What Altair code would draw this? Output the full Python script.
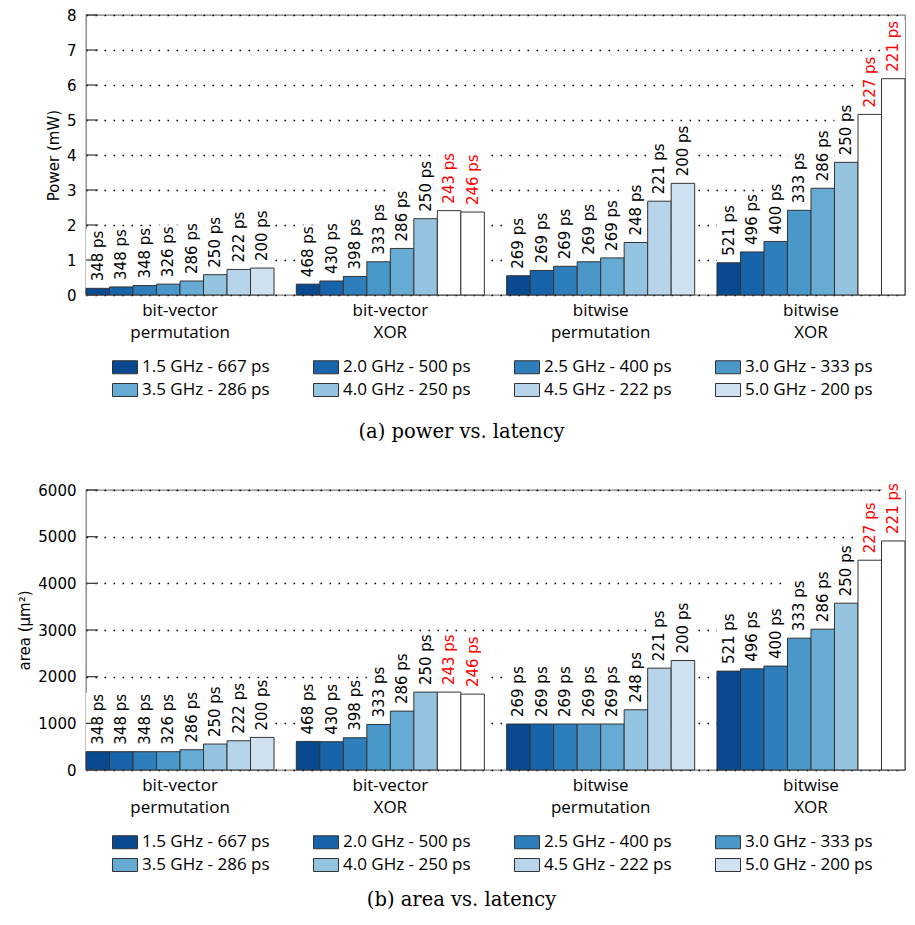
import altair as alt
import pandas as pd

# ---------------- data ----------------
groups = ["bit-vector\npermutation", "bit-vector\nXOR", "bitwise\npermutation", "bitwise\nXOR"]
freqs = ["1.5 GHz - 667 ps", "2.0 GHz - 500 ps", "2.5 GHz - 400 ps", "3.0 GHz - 333 ps",
         "3.5 GHz - 286 ps", "4.0 GHz - 250 ps", "4.5 GHz - 222 ps", "5.0 GHz - 200 ps"]
colors = ["#084990", "#1764ab", "#2e7ebc", "#4a98c9", "#66abd4", "#94c4df", "#b7d4ea", "#d0e1f2"]

# achieved latency (ps) per group, per target frequency
lat_bv_perm = [348, 348, 348, 326, 286, 250, 222, 200]
lat_bv_xor = [468, 430, 398, 333, 286, 250, 243, 246]
lat_bw_perm = [269, 269, 269, 269, 269, 248, 221, 200]
lat_bw_xor = [521, 496, 400, 333, 286, 250, 227, 221]

# 1 = timing target not met (white bar, red label)
fail_bv_perm = [0, 0, 0, 0, 0, 0, 0, 0]
fail_bv_xor = [0, 0, 0, 0, 0, 0, 1, 1]
fail_bw_perm = [0, 0, 0, 0, 0, 0, 0, 0]
fail_bw_xor = [0, 0, 0, 0, 0, 0, 1, 1]

# power (mW)
pow_bv_perm = [0.19, 0.23, 0.27, 0.31, 0.40, 0.58, 0.73, 0.77]
pow_bv_xor = [0.31, 0.40, 0.53, 0.95, 1.33, 2.18, 2.41, 2.37]
pow_bw_perm = [0.55, 0.70, 0.82, 0.95, 1.06, 1.50, 2.68, 3.19]
pow_bw_xor = [0.92, 1.23, 1.53, 2.42, 3.05, 3.79, 5.16, 6.18]

# area (um^2)
area_bv_perm = [392, 392, 392, 392, 434, 556, 627, 698]
area_bv_xor = [612, 606, 691, 976, 1262, 1669, 1669, 1626]
area_bw_perm = [985, 985, 985, 985, 985, 1291, 2183, 2346]
area_bw_xor = [2119, 2168, 2226, 2825, 3018, 3574, 4495, 4908]

power_ticks = [0, 1, 2, 3, 4, 5, 6, 7, 8]
area_ticks = [0, 1000, 2000, 3000, 4000, 5000, 6000]

latencies = [lat_bv_perm, lat_bv_xor, lat_bw_perm, lat_bw_xor]
fails = [fail_bv_perm, fail_bv_xor, fail_bw_perm, fail_bw_xor]


def make_df(series):
    rows = []
    for g, vals, lats, fl in zip(groups, series, latencies, fails):
        for f, v, l, fa in zip(freqs, vals, lats, fl):
            rows.append({"group": g, "freq": f, "value": v,
                         "lab": f"{l} ps", "failed": fa})
    return pd.DataFrame(rows)


SANS = "DejaVu Sans"
LEG = "Open Sans"


def panel(series, ytitle, ymax, yticks, caption, cap_offset):
    df = make_df(series)
    yscale = alt.Scale(domain=[0, ymax], nice=False, zero=True)
    x = alt.X("group:N", sort=groups,
              scale=alt.Scale(paddingInner=0.106, paddingOuter=0),
              axis=alt.Axis(title=None, labelAngle=0, ticks=False, domain=False,
                            grid=False, labelExpr="split(datum.label, '\\n')",
                            labelFont=LEG, labelFontSize=17, labelLineHeight=22,
                            labelPadding=7, labelColor="black"))
    xo = alt.XOffset("freq:N", sort=freqs,
                     scale=alt.Scale(paddingInner=0, paddingOuter=0))
    y = alt.Y("value:Q", scale=yscale,
              axis=alt.Axis(title=ytitle, values=yticks, format="d", grid=True,
                            gridDash=[1.6, 7.4], gridColor="#000000", gridWidth=1.5,
                            ticks=False, domain=False, labelPadding=10,
                            labelFont=SANS, labelFontSize=15, labelColor="black",
                            titleFont=SANS, titleFontSize=15, titleFontWeight="normal",
                            titleColor="black", titlePadding=5))
    base = alt.Chart(df)
    boxes = base.mark_bar(color="white", y2Offset=-59).encode(
        x=x, xOffset=xo, y=y, y2=alt.Y2("value:Q"))
    bars = base.mark_bar(stroke="#333333", strokeWidth=1).encode(
        x=x, xOffset=xo, y=y,
        fill=alt.condition(
            alt.datum.failed == 1, alt.value("white"),
            alt.Fill("freq:N", sort=freqs,
                     scale=alt.Scale(domain=freqs, range=colors),
                     legend=alt.Legend(title=None, orient="none", columns=4,
                                       direction="horizontal",
                                       legendX=26, legendY=339,
                                       symbolType="M-1,-0.52H1V0.52H-1Z",
                                       symbolSize=625, symbolStrokeColor="#333333",
                                       symbolStrokeWidth=1, symbolOpacity=1,
                                       labelFont=LEG, labelFontSize=17,
                                       labelColor="black", labelOffset=4,
                                       labelLimit=400, columnPadding=41,
                                       rowPadding=1))))
    texts = base.mark_text(angle=270, align="left", baseline="middle", dx=7,
                           font=SANS, fontSize=15).encode(
        x=x, xOffset=xo, y=y, text="lab:N",
        color=alt.condition(alt.datum.failed == 1, alt.value("#ff0000"),
                            alt.value("#000000")))
    tdf = pd.DataFrame({"value": yticks})
    ticks = alt.Chart(tdf).mark_rule(color="#444444", strokeWidth=1.3).encode(
        y=y, x=alt.value(0), x2=alt.value(12))
    return alt.layer(boxes, bars, texts, ticks).properties(
        width=819, height=280,
        title=alt.TitleParams(caption, orient="bottom", anchor="middle",
                              font="DejaVu Serif", fontSize=19.5, fontWeight="normal",
                              color="black", offset=cap_offset, dx=-34))


top = panel([pow_bv_perm, pow_bv_xor, pow_bw_perm, pow_bw_xor],
            "Power (mW)", 8, power_ticks, "(a) power vs. latency", 24)
bottom = panel([area_bv_perm, area_bv_xor, area_bw_perm, area_bw_xor],
               "area (μm²)", 6000, area_ticks, "(b) area vs. latency", 17)

chart = alt.vconcat(top, bottom, spacing=195, bounds="flush").resolve_scale(
    fill="independent").resolve_legend(fill="independent").properties(
    padding={"left": 9, "top": -1, "right": 0, "bottom": 0}
).configure_view(stroke="#808080", strokeWidth=1.3)

chart.save("out.html", embed_options={"renderer": "svg", "actions": False})
